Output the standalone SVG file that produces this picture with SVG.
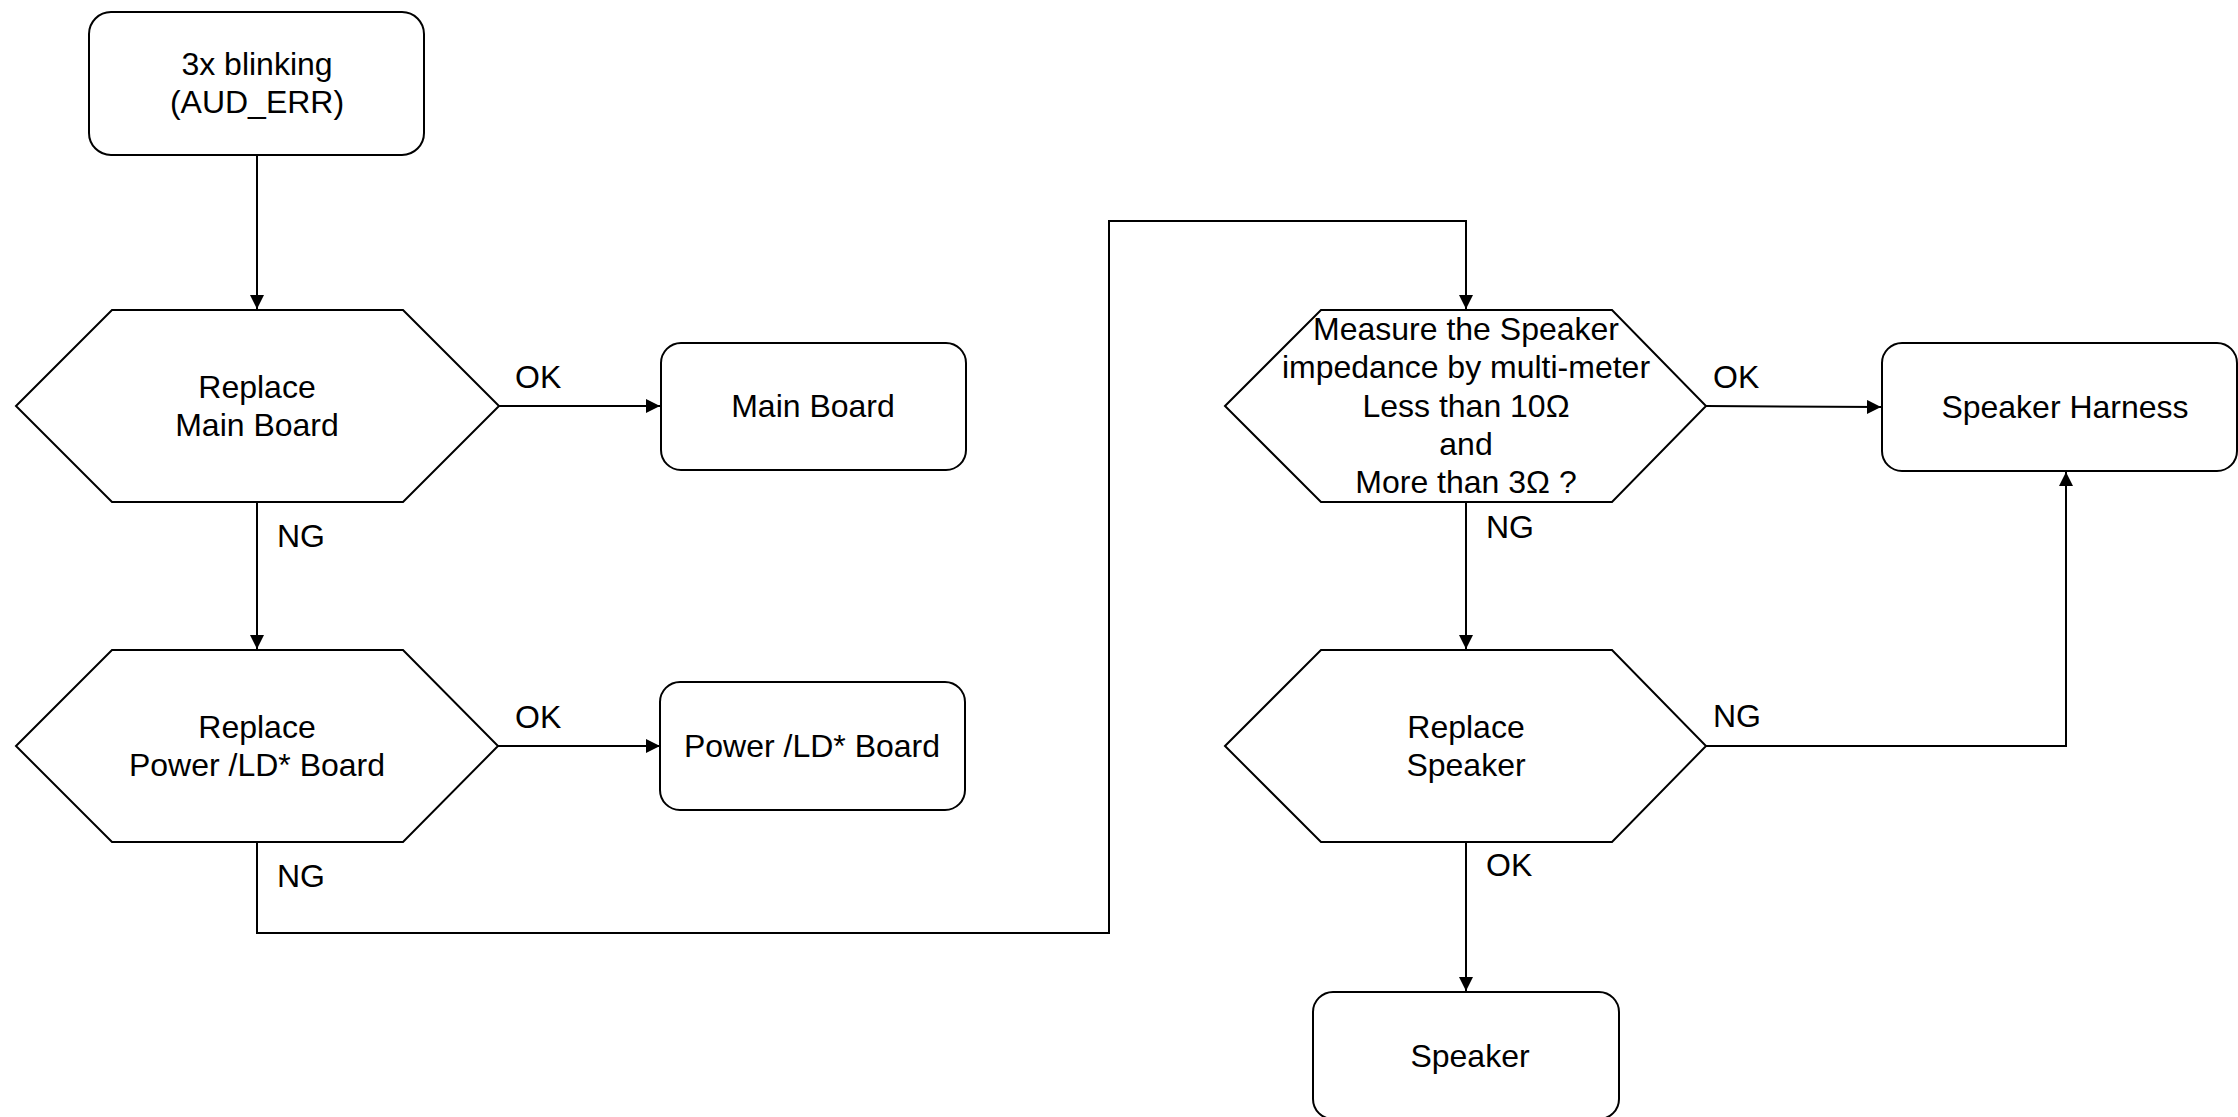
<svg xmlns="http://www.w3.org/2000/svg" width="2238" height="1117" viewBox="0 0 2238 1117">
  <style>
    .shape { fill: #ffffff; stroke: #000000; stroke-width: 2; }
    .wire { fill: none; stroke: #000000; stroke-width: 2; }
    text { font-family: "Liberation Sans", Arial, sans-serif; font-size: 32px; fill: #000000; }
    .c { text-anchor: middle; }
  </style>
  <defs>
    <marker id="arrow" viewBox="0 0 14 14" refX="14" refY="7" markerWidth="14" markerHeight="14" markerUnits="userSpaceOnUse" orient="auto">
      <path d="M0,0 L14,7 L0,14 Z" fill="#000000"/>
    </marker>
  </defs>
  <rect width="2238" height="1117" fill="#ffffff"/>

  <!-- connectors -->
  <g id="connectors">
    <path class="wire" d="M257,155 L257,309" marker-end="url(#arrow)"/>
    <path class="wire" d="M499,406 L660,406" marker-end="url(#arrow)"/>
    <path class="wire" d="M257,502 L257,649" marker-end="url(#arrow)"/>
    <path class="wire" d="M498,746 L660,746" marker-end="url(#arrow)"/>
    <path class="wire" d="M257,842 L257,933 L1109,933 L1109,221 L1466,221 L1466,309" marker-end="url(#arrow)"/>
    <path class="wire" d="M1706,406 L1881,407" marker-end="url(#arrow)"/>
    <path class="wire" d="M1466,502 L1466,649" marker-end="url(#arrow)"/>
    <path class="wire" d="M1706,746 L2066,746 L2066,472" marker-end="url(#arrow)"/>
    <path class="wire" d="M1466,842 L1466,991" marker-end="url(#arrow)"/>

    <text x="515" y="388">OK</text>
    <text x="277" y="547">NG</text>
    <text x="515" y="728">OK</text>
    <text x="277" y="887">NG</text>
    <text x="1713" y="388">OK</text>
    <text x="1486" y="538">NG</text>
    <text x="1713" y="727">NG</text>
    <text x="1486" y="876">OK</text>
  </g>

  <g id="start">
    <rect class="shape" x="89" y="12" width="335" height="143" rx="22"/>
    <text class="c" x="257" y="75">3x blinking</text>
    <text class="c" x="257" y="113">(AUD_ERR)</text>
  </g>

  <g id="replace-main">
    <polygon class="shape" points="16,406 112,310 403,310 499,406 403,502 112,502"/>
    <text class="c" x="257" y="398">Replace</text>
    <text class="c" x="257" y="436">Main Board</text>
  </g>

  <g id="main-board">
    <rect class="shape" x="661" y="343" width="305" height="127" rx="20"/>
    <text class="c" x="813" y="417">Main Board</text>
  </g>

  <g id="replace-power">
    <polygon class="shape" points="16,746 112,650 403,650 498,746 403,842 112,842"/>
    <text class="c" x="257" y="738">Replace</text>
    <text class="c" x="257" y="776">Power /LD* Board</text>
  </g>

  <g id="power-board">
    <rect class="shape" x="660" y="682" width="305" height="128" rx="20"/>
    <text class="c" x="812" y="757">Power /LD* Board</text>
  </g>

  <g id="measure">
    <polygon class="shape" points="1225,406 1321,310 1612,310 1706,406 1612,502 1321,502"/>
    <text class="c" x="1466" y="340">Measure the Speaker</text>
    <text class="c" x="1466" y="378">impedance by multi-meter</text>
    <text class="c" x="1466" y="417">Less than 10Ω</text>
    <text class="c" x="1466" y="455">and</text>
    <text class="c" x="1466" y="493">More than 3Ω ?</text>
  </g>

  <g id="speaker-harness">
    <rect class="shape" x="1882" y="343" width="355" height="128" rx="20"/>
    <text class="c" x="2065" y="418">Speaker Harness</text>
  </g>

  <g id="replace-speaker">
    <polygon class="shape" points="1225,746 1321,650 1612,650 1706,746 1612,842 1321,842"/>
    <text class="c" x="1466" y="738">Replace</text>
    <text class="c" x="1466" y="776">Speaker</text>
  </g>

  <g id="speaker">
    <rect class="shape" x="1313" y="992" width="306" height="127" rx="20"/>
    <text class="c" x="1470" y="1067">Speaker</text>
  </g>
</svg>
